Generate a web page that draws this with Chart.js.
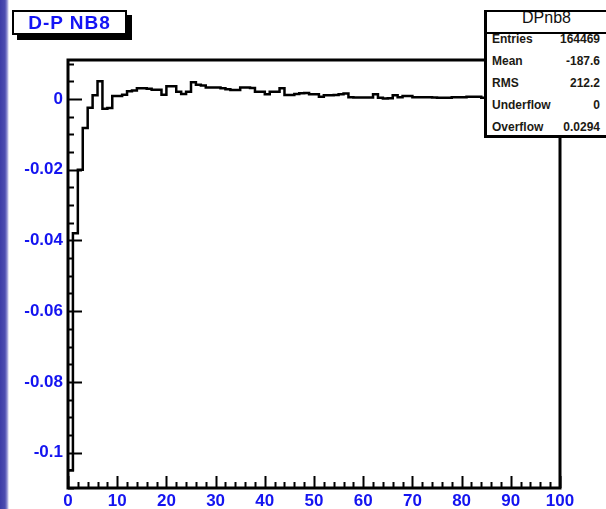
<!DOCTYPE html>
<html lang="en">
  <head>
    <meta charset="UTF-8" />
    <title>D-P NB8</title>
    <script src="https://cdn.jsdelivr.net/npm/chart.js"></script>
    <style>
      html, body { margin: 0; padding: 0; }
      body {
        width: 606px; height: 509px; overflow: hidden; position: relative;
        background: linear-gradient(to right, #3c3ca6 0px, #4d4db0 5px, #8d8dd0 7px, #ffffff 9px);
        font-family: "Liberation Sans", Arial, sans-serif;
      }
      #chart { position: absolute; left: 0; top: 0; }
      #title {
        position: absolute; left: 12px; top: 10px; width: 115px; height: 25px;
        box-sizing: border-box; border: 2px solid #000; background: #fff;
        box-shadow: 5px 5px 0 #000;
        color: #1414f5; font-weight: bold; font-size: 19px; letter-spacing: 1px;
        text-align: center; line-height: 21px;
      }
      #stats {
        position: absolute; left: 484px; top: 10px; width: 140px; height: 128px;
        box-sizing: border-box; border: 2px solid #000; border-left-width: 3px;
        border-bottom-width: 3px; background: #fff;
      }
      #stats .head {
        position: absolute; left: 0; top: 0; width: 119px; height: 20px;
        border-bottom: 2px solid #000; text-align: center; overflow: hidden;
        font-size: 16px; line-height: 12px; color: #111;
      }
      #stats .row {
        position: absolute; left: 5px; width: 108px;
        display: flex; justify-content: space-between;
        font-size: 12px; font-weight: bold; line-height: 14px; color: #1c1a14;
      }
    </style>
  </head>
  <body>
    <canvas id="chart" width="606" height="509"></canvas>
    <div id="title">D-P NB8</div>
    <div id="stats">
      <div class="head">DPnb8</div>
      <div class="row" style="top: 20px"><span>Entries</span><span>164469</span></div>
      <div class="row" style="top: 42px"><span>Mean</span><span>-187.6</span></div>
      <div class="row" style="top: 64px"><span>RMS</span><span>212.2</span></div>
      <div class="row" style="top: 86px"><span>Underflow</span><span>0</span></div>
      <div class="row" style="top: 108px"><span>Overflow</span><span>0.0294</span></div>
    </div>

    <script>
      // histogram D-P NB8 : 100 bins from 0 to 100
      var xMin = 0, xMax = 100;
      var yMin = -0.11, yMax = 0.011;

      var binValues = [
        -0.105, -0.038, -0.020, -0.0082, -0.0025, 0.001, 0.005, -0.0028, -0.0026, 0.0008,
        0.0008, 0.0012, 0.0022, 0.0024, 0.0030, 0.0030, 0.0029, 0.0026, 0.0026, 0.0012,
        0.0036, 0.0036, 0.0020, 0.0014, 0.0020, 0.0047, 0.0040, 0.0038, 0.0032, 0.0032,
        0.0032, 0.0030, 0.0027, 0.0025, 0.0025, 0.0032, 0.0032, 0.0031, 0.0020, 0.0020,
        0.0013, 0.0020, 0.0020, 0.0030, 0.0011, 0.0011, 0.0014, 0.0016, 0.0017, 0.0013,
        0.0013, 0.0006, 0.0010, 0.0010, 0.0011, 0.0013, 0.0015, 0.0005, 0.0004, 0.0004,
        0.0004, 0.0004, 0.0013, 0.0003, 0.0001, 0.0002, 0.0010, 0.0005, 0.0008, 0.0008,
        0.0005, 0.0005, 0.0005, 0.0005, 0.0004, 0.0003, 0.0003, 0.0003, 0.0005, 0.0005,
        0.0005, 0.0006, 0.0006, 0.0006, 0.0003, 0.0004, 0.0005, 0.0003, 0.0004, 0.0004,
        0.0003, 0.0004, 0.0005, 0.0003, 0.0003, 0.0004, 0.0003, 0.0004, 0.0003, 0.0003
      ];

      var xTickValues = [0, 10, 20, 30, 40, 50, 60, 70, 80, 90, 100];
      var xTickLabels = ["0", "10", "20", "30", "40", "50", "60", "70", "80", "90", "100"];
      var yTickValues = [0, -0.02, -0.04, -0.06, -0.08, -0.1];
      var yTickLabels = ["0", "-0.02", "-0.04", "-0.06", "-0.08", "-0.1"];
      var xMinorStep = 2;
      var yMinorStep = 0.005;

      // left edge of each bin, plus the last right edge
      var points = binValues.map(function (v, i) {
        return { x: xMin + i * (xMax - xMin) / binValues.length, y: v };
      });
      points.push({ x: xMax, y: binValues[binValues.length - 1] });

      var labelBlue = "#1414f0";

      // ROOT style frame with ticks drawn inside
      var framePlugin = {
        id: "frame",
        afterDatasetsDraw: function (chart) {
          var ctx = chart.ctx, a = chart.chartArea;
          var xs = chart.scales.x, ys = chart.scales.y;
          ctx.save();
          ctx.strokeStyle = "#000";
          ctx.lineWidth = 2;
          ctx.beginPath();
          for (var v = xMin; v <= xMax + 1e-9; v += xMinorStep) {
            var px = Math.round(xs.getPixelForValue(v)) + 0.5;
            var len = Math.abs(v % 10) < 1e-9 ? 12 : 6;
            ctx.moveTo(px, a.bottom);
            ctx.lineTo(px, a.bottom - len);
          }
          for (var k = 0; ; k++) {
            var yv = -k * yMinorStep;
            if (yv < yMin) break;
            var py = Math.round(ys.getPixelForValue(yv)) + 0.5;
            var major = Math.abs((yv / 0.02) - Math.round(yv / 0.02)) < 1e-6;
            ctx.moveTo(a.left, py);
            ctx.lineTo(a.left + (major ? 14 : 6), py);
          }
          for (var k2 = 1; ; k2++) {
            var yv2 = k2 * yMinorStep;
            if (yv2 > yMax) break;
            var py2 = Math.round(ys.getPixelForValue(yv2)) + 0.5;
            ctx.moveTo(a.left, py2);
            ctx.lineTo(a.left + 6, py2);
          }
          ctx.stroke();
          ctx.lineWidth = 3;
          ctx.strokeRect(a.left, a.top, a.right - a.left, a.bottom - a.top);
          ctx.restore();
        },
      };

      new Chart(document.getElementById("chart").getContext("2d"), {
        type: "line",
        data: {
          datasets: [
            {
              data: points,
              stepped: true,
              borderColor: "#000",
              borderWidth: 2.5,
              pointRadius: 0,
              fill: false,
            },
          ],
        },
        options: {
          responsive: false,
          animation: false,
          layout: { padding: { top: 60, right: 46, left: 0, bottom: 0 } },
          plugins: { legend: { display: false }, tooltip: { enabled: false } },
          scales: {
            x: {
              type: "linear",
              min: xMin,
              max: xMax,
              grid: { display: false, drawTicks: false },
              border: { display: false },
              afterFit: function (s) { s.height = 21; },
              afterBuildTicks: function (s) {
                s.ticks = xTickValues.map(function (v) { return { value: v }; });
              },
              ticks: {
                padding: 3,
                maxRotation: 0,
                color: labelBlue,
                font: { family: "Liberation Sans", size: 17, weight: "bold" },
                callback: function (v) { return xTickLabels[xTickValues.indexOf(v)]; },
              },
            },
            y: {
              type: "linear",
              min: yMin,
              max: yMax,
              grid: { display: false, drawTicks: false },
              border: { display: false },
              afterFit: function (s) { s.width = 68; },
              afterBuildTicks: function (s) {
                s.ticks = yTickValues.map(function (v) { return { value: v }; });
              },
              ticks: {
                padding: 5,
                color: labelBlue,
                font: { family: "Liberation Sans", size: 17, weight: "bold" },
                callback: function (v) {
                  var i = yTickValues.findIndex(function (t) { return Math.abs(t - v) < 1e-9; });
                  return i >= 0 ? yTickLabels[i] : "";
                },
              },
            },
          },
        },
        plugins: [framePlugin],
      });
    </script>
  </body>
</html>
